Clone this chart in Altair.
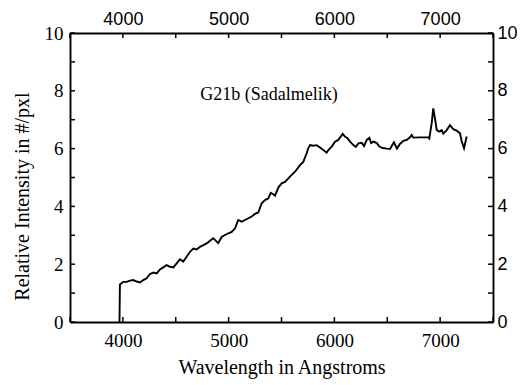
import altair as alt
import pandas as pd

wavelength = [3968, 3972, 4004, 4036, 4067, 4099, 4131, 4162, 4193, 4225, 4256, 4288, 4320,
              4351, 4382, 4414, 4445, 4477, 4509, 4540, 4571, 4603, 4635, 4666, 4698, 4729,
              4761, 4792, 4824, 4855, 4887, 4902, 4934, 4966, 4997, 5029, 5060, 5091, 5124,
              5155, 5186, 5218, 5249, 5280, 5313, 5344, 5376, 5398, 5423, 5439, 5471, 5502,
              5533, 5565, 5596, 5628, 5675, 5706, 5738, 5753, 5770, 5801, 5833, 5864, 5895,
              5927, 5943, 5975, 6006, 6037, 6079, 6101, 6123, 6148, 6180, 6202, 6227, 6259,
              6281, 6306, 6331, 6347, 6369, 6401, 6425, 6456, 6495, 6526, 6563, 6592, 6620,
              6652, 6684, 6715, 6731, 6746, 6810, 6888, 6898, 6920, 6935, 6951, 6968, 6992,
              7015, 7030, 7062, 7093, 7125, 7156, 7188, 7204, 7226, 7251]
intensity = [0.0, 1.30, 1.39, 1.39, 1.43, 1.45, 1.40, 1.37, 1.45, 1.51, 1.66, 1.71, 1.68,
             1.82, 1.89, 1.97, 1.91, 1.89, 2.03, 2.17, 2.09, 2.26, 2.43, 2.54, 2.51, 2.60,
             2.66, 2.72, 2.81, 2.90, 2.78, 2.73, 2.94, 3.01, 3.07, 3.12, 3.24, 3.53, 3.47,
             3.53, 3.59, 3.65, 3.74, 3.79, 4.11, 4.22, 4.28, 4.47, 4.42, 4.37, 4.66, 4.80,
             4.85, 4.97, 5.09, 5.20, 5.43, 5.54, 5.84, 6.01, 6.12, 6.10, 6.12, 6.04, 5.95,
             5.86, 5.95, 6.07, 6.24, 6.30, 6.51, 6.41, 6.37, 6.24, 6.12, 6.06, 6.18, 6.20,
             6.09, 6.30, 6.37, 6.19, 6.24, 6.19, 6.07, 6.02, 6.00, 5.99, 6.22, 6.00, 6.16,
             6.27, 6.30, 6.39, 6.47, 6.38, 6.39, 6.39, 6.35, 6.87, 7.39, 7.05, 6.64, 6.59,
             6.64, 6.52, 6.64, 6.81, 6.67, 6.62, 6.53, 6.25, 6.01, 6.42]

x_ticks = [3500, 4000, 4500, 5000, 5500, 6000, 6500, 7000, 7500]
x_labels = [4000, 5000, 6000, 7000]
y_ticks = [0, 1, 2, 3, 4, 5, 6, 7, 8, 9, 10]
y_labels = [0, 2, 4, 6, 8, 10]

title_text = "G21b (Sadalmelik)"
x_title = "Wavelength in Angstroms"
y_title = "Relative Intensity in #/pxl"

df = pd.DataFrame({"wavelength": wavelength, "intensity": intensity})
xt = pd.DataFrame({"t": x_ticks})
yt = pd.DataFrame({"t": y_ticks})

W, H = 423, 289
serif = "Liberation Serif"
sans = "Liberation Sans"

xscale = alt.Scale(domain=[3500, 7500], nice=False, zero=False)
yscale = alt.Scale(domain=[0, 10], nice=False, zero=False)

x_label_expr = "indexof(%s, datum.value) >= 0 ? datum.label : ''" % str(x_labels)
y_label_expr = "indexof(%s, datum.value) >= 0 ? datum.label : ''" % str(y_labels)

common = dict(tickSize=0, grid=False, domainColor="black", domainWidth=1.9,
              labelColor="black", labelOverlap=False, labelFlush=False, labelBound=False)

bottom_axis = alt.Axis(orient="bottom", values=x_ticks, format="d", labelExpr=x_label_expr,
                       labelFont=serif, labelFontSize=19, labelPadding=9,
                       title=x_title, titleFont=serif, titleFontSize=20,
                       titleFontWeight="normal", titleColor="black", titlePadding=7, **common)
top_axis = alt.Axis(orient="top", values=x_ticks, format="d", labelExpr=x_label_expr,
                    labelFont=sans, labelFontSize=18, labelPadding=5, title=None, **common)
left_axis = alt.Axis(orient="left", values=y_ticks, format="d", labelExpr=y_label_expr,
                     labelFont=serif, labelFontSize=19, labelPadding=7,
                     title=y_title, titleFont=serif, titleFontSize=20,
                     titleFontWeight="normal", titleColor="black", titleX=-38, titleY=163,
                     **common)
right_axis = alt.Axis(orient="right", values=y_ticks, format="d", labelExpr=y_label_expr,
                      labelFont=sans, labelFontSize=18, labelPadding=4, title=None, **common)

line = alt.Chart(df).mark_line(color="black", strokeWidth=1.9, strokeJoin="miter").encode(
    x=alt.X("wavelength:Q", scale=xscale, axis=bottom_axis),
    y=alt.Y("intensity:Q", scale=yscale, axis=left_axis),
)

top_ticks = alt.Chart(xt).mark_rule(color="black", strokeWidth=1.5).encode(
    x=alt.X("t:Q", scale=xscale, axis=top_axis),
    y=alt.value(0), y2=alt.value(5),
)
bottom_ticks = alt.Chart(xt).mark_rule(color="black", strokeWidth=1.5).encode(
    x=alt.X("t:Q", scale=xscale, axis=None),
    y=alt.value(H), y2=alt.value(H - 5),
)
right_ticks = alt.Chart(yt).mark_rule(color="black", strokeWidth=1.5).encode(
    y=alt.Y("t:Q", scale=yscale, axis=right_axis),
    x=alt.value(W), x2=alt.value(W - 5),
)
left_ticks = alt.Chart(yt).mark_rule(color="black", strokeWidth=1.5).encode(
    y=alt.Y("t:Q", scale=yscale, axis=None),
    x=alt.value(0), x2=alt.value(5),
)

label = alt.Chart(pd.DataFrame({"label": [title_text]})).mark_text(
    font=serif, fontSize=18, color="black", align="center", baseline="middle"
).encode(x=alt.value(199), y=alt.value(62), text="label:N")

chart = alt.layer(line, top_ticks, right_ticks, bottom_ticks, left_ticks, label).resolve_axis(
    x="independent", y="independent"
).properties(
    width=W, height=H,
    autosize=alt.AutoSizeParams(type="none"),
    padding={"left": 70, "top": 33, "right": 34, "bottom": 63},
    background="white",
).configure_view(stroke=None)

chart.save("out.html", embed_options={"renderer": "svg", "actions": False})
